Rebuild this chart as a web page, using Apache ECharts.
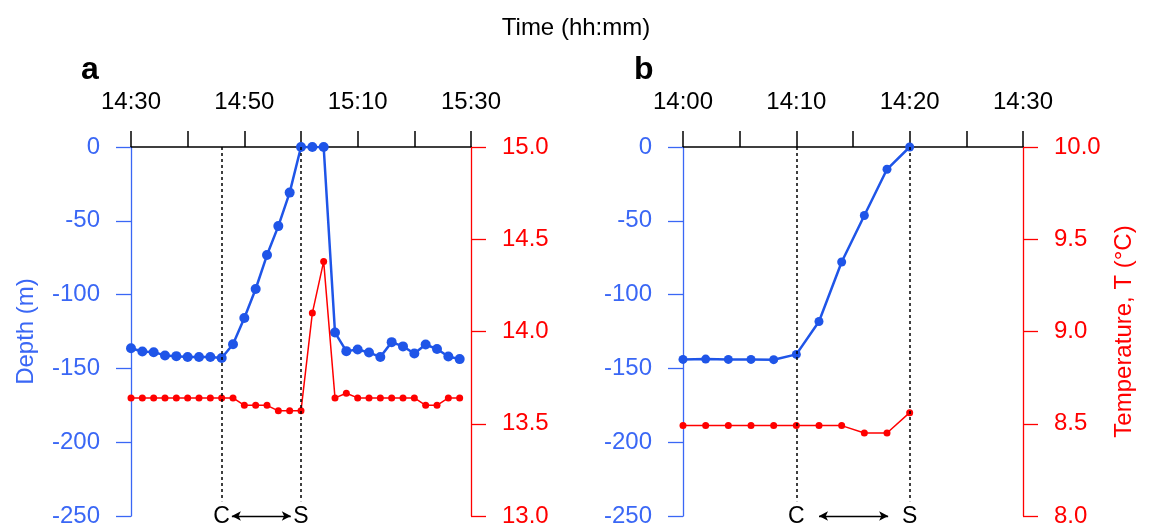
<!DOCTYPE html>
<html>
<head>
<meta charset="utf-8">
<script src="https://cdn.jsdelivr.net/npm/echarts@6/dist/echarts.min.js"></script>
<style>html,body{margin:0;padding:0;background:#fff;}#chart{width:1152px;height:528px;}</style>
</head>
<body>
<div id="chart"></div>
<script>
// ---- data ----
const timesA = ['14:30','14:32','14:34','14:36','14:38','14:40','14:42','14:44','14:46','14:48',
                '14:50','14:52','14:54','14:56','14:58','15:00','15:02','15:04','15:06','15:08',
                '15:10','15:12','15:14','15:16','15:18','15:20','15:22','15:24','15:26','15:28'];
const depthA = [-136.3,-138.5,-139,-141.2,-141.7,-142.3,-142.3,-142.3,-143,-133.6,
                -115.8,-96.2,-73.2,-53.6,-30.9,0,0,0,-125.7,-138.3,
                -137.2,-139.2,-142.3,-132.2,-135.1,-139.9,-133.8,-136.9,-141.9,-143.7];
const tempA  = [13.64,13.64,13.64,13.64,13.64,13.64,13.64,13.64,13.64,13.64,
                13.60,13.60,13.60,13.57,13.57,13.57,14.10,14.38,13.64,13.665,
                13.64,13.64,13.64,13.64,13.64,13.64,13.60,13.60,13.64,13.64];
const timesB = ['14:00','14:02','14:04','14:06','14:08','14:10','14:12','14:14','14:16','14:18','14:20'];
const depthB = [-143.9,-143.7,-143.9,-143.9,-144.1,-140.5,-118.2,-77.9,-46.4,-15.1,0];
const tempB  = [8.49,8.49,8.49,8.49,8.49,8.49,8.49,8.49,8.45,8.45,8.56];
const eventsA = {C:'14:46', S:'15:00'};
const eventsB = {C:'14:10', S:'14:20'};
const arrowA = ['14:47.8','14:58.2'];
const arrowB = ['14:12','14:18.1'];
const xRangeA = ['14:30','15:30'];
const xRangeB = ['14:00','14:30'];
const depthRange = [-250, 0];
const tempRangeA = [13, 15];
const tempRangeB = [8, 10];

// ---- helpers ----
const toMin = s => { const p = s.split(':'); return +p[0] * 60 + parseFloat(p[1]); };
const fmt = v => { const h = Math.floor(v / 60), m = Math.round(v - h * 60); return h + ':' + String(m).padStart(2, '0'); };

const BLUE = '#1f55e8', BLUE_AX = '#3a67f5', RED = '#ff0000';
const FONT = 'Liberation Sans, Arial, sans-serif';

function xAxisFor(idx, range, labelStep) {
  const mn = toMin(range[0]);
  return {
    type: 'value', gridIndex: idx, position: 'top', min: mn, max: toMin(range[1]),
    interval: labelStep / 2,
    axisLine: {show: true, onZero: false, lineStyle: {color: '#000', width: 1.5}},
    axisTick: {show: true, length: 16, lineStyle: {color: '#000', width: 1.5}},
    axisLabel: {margin: 33, fontSize: 24, fontFamily: FONT, color: '#000',
      formatter: v => ((v - mn) % labelStep === 0 ? fmt(v) : '')},
    splitLine: {show: false}
  };
}
function depthAxis(idx, name) {
  return {
    type: 'value', gridIndex: idx, position: 'left', min: depthRange[0], max: depthRange[1], interval: 50,
    name: name, nameLocation: 'middle', nameRotate: 90, nameGap: 93,
    nameTextStyle: {fontSize: 24, fontFamily: FONT, color: BLUE_AX},
    axisLine: {show: true, onZero: false, lineStyle: {color: BLUE_AX, width: 1.3}},
    axisTick: {show: true, length: 15, lineStyle: {color: BLUE_AX, width: 1.3}},
    axisLabel: {margin: 31, fontSize: 24, fontFamily: FONT, color: BLUE_AX},
    splitLine: {show: false}
  };
}
function tempAxis(idx, range, name) {
  return {
    type: 'value', gridIndex: idx, position: 'right', min: range[0], max: range[1], interval: 0.5,
    name: name, nameLocation: 'middle', nameRotate: 90, nameGap: 89,
    nameTextStyle: {fontSize: 24, fontFamily: FONT, color: RED},
    axisLine: {show: true, onZero: false, lineStyle: {color: RED, width: 1.3}},
    axisTick: {show: true, length: 15, lineStyle: {color: RED, width: 1.3}},
    axisLabel: {margin: 31, fontSize: 24, fontFamily: FONT, color: RED, formatter: v => v.toFixed(1)},
    splitLine: {show: false}
  };
}
function markers(ev, arrow) {
  const vline = (t, lab) => [
    {coord: [toMin(t), 0], symbol: 'none'},
    {coord: [toMin(t), -240], symbol: 'none',
      label: {show: true, position: 'end', distance: 4, formatter: lab, fontSize: 23, fontFamily: FONT, color: '#000'}}
  ];
  return {
    silent: true, animation: false,
    lineStyle: {color: '#000', type: [3, 3], width: 1.5},
    label: {show: false},
    data: [
      vline(ev.C, 'C'),
      vline(ev.S, 'S'),
      [{coord: [toMin(arrow[0]), -250], symbol: 'arrow', symbolSize: [7, 9],
        lineStyle: {type: 'solid', width: 1.3, color: '#000'}},
       {coord: [toMin(arrow[1]), -250], symbol: 'arrow', symbolSize: [7, 9]}]
    ]
  };
}
function pairs(times, vals) { return times.map((t, i) => [toMin(t), vals[i]]); }

const chart = echarts.init(document.getElementById('chart'), null, {renderer: 'canvas'});
chart.setOption({
  animation: false,
  backgroundColor: '#fff',
  title: [
    {text: 'Time (hh:mm)', left: 'center', top: 11, textStyle: {fontSize: 24, fontWeight: 'normal', fontFamily: FONT, color: '#000'}},
  ],
  graphic: [
    {type: 'text', left: 81, top: 54, style: {text: 'a', font: 'bold 32px ' + FONT, fill: '#000'}},
    {type: 'text', left: 634, top: 54, style: {text: 'b', font: 'bold 32px ' + FONT, fill: '#000'}}
  ],
  grid: [
    {left: 131, top: 147, width: 340, height: 370},
    {left: 683, top: 147, width: 340, height: 370}
  ],
  xAxis: [xAxisFor(0, xRangeA, 20), xAxisFor(1, xRangeB, 10)],
  yAxis: [depthAxis(0, 'Depth (m)'), tempAxis(0, tempRangeA, ''),
          depthAxis(1, ''), tempAxis(1, tempRangeB, 'Temperature, T (°C)')],
  series: [
    {type: 'line', xAxisIndex: 0, yAxisIndex: 0, data: pairs(timesA, depthA), symbol: 'circle', symbolSize: 10,
     itemStyle: {color: BLUE}, lineStyle: {color: BLUE, width: 2.5}, markLine: markers(eventsA, arrowA), z: 3},
    {type: 'line', xAxisIndex: 0, yAxisIndex: 1, data: pairs(timesA, tempA), symbol: 'circle', symbolSize: 7,
     itemStyle: {color: RED}, lineStyle: {color: RED, width: 1.5}, z: 4},
    {type: 'line', xAxisIndex: 1, yAxisIndex: 2, data: pairs(timesB, depthB), symbol: 'circle', symbolSize: 9,
     itemStyle: {color: BLUE}, lineStyle: {color: BLUE, width: 2.5}, markLine: markers(eventsB, arrowB), z: 3},
    {type: 'line', xAxisIndex: 1, yAxisIndex: 3, data: pairs(timesB, tempB), symbol: 'circle', symbolSize: 7,
     itemStyle: {color: RED}, lineStyle: {color: RED, width: 1.5}, z: 4}
  ]
});
</script>
</body>
</html>
